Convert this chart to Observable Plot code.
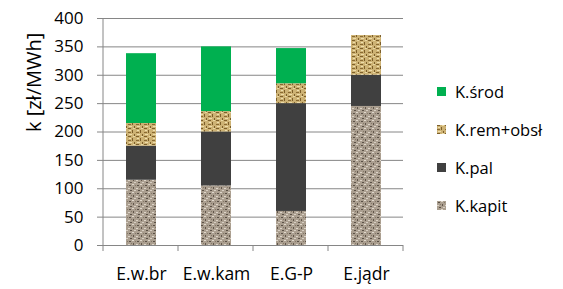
<!DOCTYPE html>
<html>
<head>
<meta charset="utf-8">
<script src="https://cdn.jsdelivr.net/npm/d3@7"></script>
<script src="https://cdn.jsdelivr.net/npm/@observablehq/plot@0.6"></script>
<style>
  body { margin: 0; background: #fff; }
  #wrap { position: relative; width: 563px; height: 289px; font-family: "Open Sans", sans-serif; }
  #legend { position: absolute; left: 437px; top: 72px; }
  .item { display: flex; align-items: center; height: 38px; font-size: 16.5px; color: #000; }
  .item svg { margin-right: 9px; }
</style>
</head>
<body>
<svg width="0" height="0" style="position:absolute">
  <defs>
    <pattern id="pKapit" width="8" height="8" patternUnits="userSpaceOnUse">
      <rect width="8" height="8" fill="#ab9f90"/>
      <rect x="1" y="1" width="2" height="1" fill="#5a5046"/>
      <rect x="5" y="3" width="1" height="2" fill="#61564b"/>
      <rect x="2" y="6" width="2" height="1" fill="#5a5046"/>
      <rect x="4" y="0" width="2" height="1" fill="#e0d8cc"/>
      <rect x="0" y="4" width="2" height="1" fill="#ddd4c8"/>
      <rect x="6" y="6" width="2" height="1" fill="#d8cfc3"/>
      <rect x="3" y="3" width="1" height="1" fill="#857969"/>
      <rect x="7" y="1" width="1" height="1" fill="#857969"/>
    </pattern>
    <pattern id="pRem" width="8" height="8" patternUnits="userSpaceOnUse">
      <rect width="8" height="8" fill="#cdb274"/>
      <rect x="0" y="0" width="3" height="1" fill="#7d5f2a"/>
      <rect x="4" y="2" width="1" height="3" fill="#7d5f2a"/>
      <rect x="0" y="4" width="3" height="1" fill="#8a6a32"/>
      <rect x="6" y="6" width="1" height="2" fill="#7d5f2a"/>
      <rect x="1" y="2" width="2" height="1" fill="#efdfae"/>
      <rect x="5" y="0" width="2" height="1" fill="#ead9a4"/>
      <rect x="1" y="6" width="3" height="1" fill="#eedcaa"/>
    </pattern>
  </defs>
</svg>
<div id="wrap"><div id="legend"></div></div>
<script>
const categories = ["E.w.br", "E.w.kam", "E.G-P", "E.jądr"];
const series = ["K.kapit", "K.pal", "K.rem+obsł", "K.środ"];
const kapit = [115, 105, 60, 245];
const pal = [60, 95, 190, 55];
const remObsl = [40, 36, 35, 70];
const srod = [123, 114, 62, 0];
const yTicks = [0, 50, 100, 150, 200, 250, 300, 350, 400];
const yTitle = "k [zł/MWh]";
const fills = ["url(#pKapit)", "#404040", "url(#pRem)", "#00b050"];

const values = [kapit, pal, remObsl, srod];
const rows = [];
categories.forEach((c, i) => {
  series.forEach((s, j) => rows.push({category: c, series: s, value: values[j][i]}));
});

const axisLines = (index, scales, vals, dims) => {
  const {width, height, marginLeft, marginRight, marginTop, marginBottom} = dims;
  const g = d3.create("svg:g").attr("stroke", "#868686");
  const x0 = marginLeft, x1 = width - marginRight, yb = height - marginBottom;
  g.append("line").attr("x1", x0).attr("x2", x0).attr("y1", marginTop).attr("y2", yb);
  const n = categories.length;
  for (let i = 0; i <= n; i++) {
    const x = x0 + (x1 - x0) * i / n;
    g.append("line").attr("x1", x).attr("x2", x).attr("y1", yb).attr("y2", yb + 6);
  }
  return g.node();
};

const chart = Plot.plot({
  width: 563,
  height: 289,
  marginLeft: 103,
  marginRight: 160,
  marginTop: 18,
  marginBottom: 44,
  style: {fontFamily: "'Open Sans', sans-serif", fontSize: "17px", color: "#000", background: "transparent", overflow: "visible"},
  x: {domain: categories, paddingInner: 0.6, paddingOuter: 0.3},
  y: {domain: [0, 400]},
  color: {domain: series, range: fills},
  marks: [
    Plot.gridY({ticks: yTicks, stroke: "#868686", strokeOpacity: 1}),
    Plot.barY(rows, {x: "category", y: "value", fill: "series"}),
    axisLines,
    Plot.axisY({ticks: yTicks, tickSize: 6, tickPadding: 14, stroke: "#868686", strokeOpacity: 1, label: null, fontSize: 17}),
    Plot.axisX({tickSize: 0, tickPadding: 22, label: null, fontSize: 17.5}),
    Plot.text([yTitle], {frameAnchor: "left", rotate: -90, dx: -69, fontSize: 20, fill: "#000"})
  ]
});
document.getElementById("wrap").prepend(chart);

const legend = document.getElementById("legend");
series.slice().reverse().forEach(s => {
  const j = series.indexOf(s);
  const item = document.createElement("div");
  item.className = "item";
  item.innerHTML = `<svg width="9" height="9"><rect width="9" height="9" fill="${fills[j]}"/></svg><span></span>`;
  item.querySelector("span").textContent = s;
  legend.appendChild(item);
});
</script>
</body>
</html>
